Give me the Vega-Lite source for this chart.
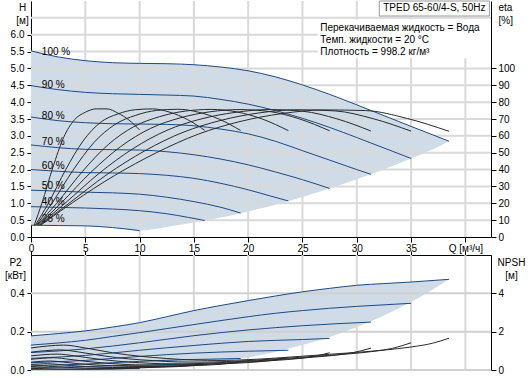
{
"$schema":"https://vega.github.io/schema/vega-lite/v6.json",
"padding":{"left":4,"top":0,"right":0,"bottom":0},
"background":"white",
"config":{"view":{"stroke":null},"font":"Liberation Sans",
"axis":{"labelFont":"Liberation Sans","titleFont":"Liberation Sans","labelFontSize":10,"titleFontSize":10,"titleFontWeight":"normal","labelColor":"#000","titleColor":"#000","domainColor":"#000","tickColor":"#000","grid":false,"labelFlush":false,"zindex":1},
"text":{"font":"Liberation Sans","fontSize":10,"color":"#000"}},
"datasets":{
"harea":[{"Q":0,"hi":5.52,"lo":0.35},{"Q":2.5,"hi":5.34,"lo":0.34},{"Q":5,"hi":5.23,"lo":0.33},{"Q":7.5,"hi":5.17,"lo":0.28},{"Q":10,"hi":5.15,"lo":0.19},{"Q":12.5,"hi":5.14,"lo":0.3},{"Q":15,"hi":5.11,"lo":0.43},{"Q":17.5,"hi":5.04,"lo":0.58},{"Q":20,"hi":4.93,"lo":0.76},{"Q":22.5,"hi":4.75,"lo":0.96},{"Q":25,"hi":4.51,"lo":1.19},{"Q":27.5,"hi":4.23,"lo":1.44},{"Q":30,"hi":3.92,"lo":1.71},{"Q":32.5,"hi":3.6,"lo":2.01},{"Q":35,"hi":3.28,"lo":2.33},{"Q":37,"hi":3.03,"lo":2.6},{"Q":38.5,"hi":2.84,"lo":2.84}],
"hcurve":[
{"s":100,"Q":0,"H":5.52},{"s":100,"Q":2.5,"H":5.34},{"s":100,"Q":5,"H":5.23},{"s":100,"Q":7.5,"H":5.17},{"s":100,"Q":10,"H":5.15},{"s":100,"Q":12.5,"H":5.14},{"s":100,"Q":15,"H":5.11},{"s":100,"Q":17.5,"H":5.04},{"s":100,"Q":20,"H":4.93},{"s":100,"Q":22.5,"H":4.75},{"s":100,"Q":25,"H":4.51},{"s":100,"Q":27.5,"H":4.23},{"s":100,"Q":30,"H":3.92},{"s":100,"Q":32.5,"H":3.6},{"s":100,"Q":35,"H":3.28},{"s":100,"Q":37,"H":3.03},{"s":100,"Q":38.5,"H":2.84},
{"s":90,"Q":0,"H":4.49},{"s":90,"Q":2.5,"H":4.37},{"s":90,"Q":5,"H":4.29},{"s":90,"Q":7.5,"H":4.25},{"s":90,"Q":10,"H":4.23},{"s":90,"Q":12.5,"H":4.21},{"s":90,"Q":15,"H":4.18},{"s":90,"Q":17.5,"H":4.08},{"s":90,"Q":20,"H":3.94},{"s":90,"Q":22.5,"H":3.75},{"s":90,"Q":25,"H":3.52},{"s":90,"Q":27.5,"H":3.25},{"s":90,"Q":30,"H":2.95},{"s":90,"Q":32.5,"H":2.64},{"s":90,"Q":35,"H":2.33},
{"s":80,"Q":0,"H":3.56},{"s":80,"Q":2.5,"H":3.45},{"s":80,"Q":5,"H":3.39},{"s":80,"Q":7.5,"H":3.36},{"s":80,"Q":10,"H":3.35},{"s":80,"Q":12.5,"H":3.34},{"s":80,"Q":15,"H":3.3},{"s":80,"Q":17.5,"H":3.2},{"s":80,"Q":20,"H":3.06},{"s":80,"Q":22.5,"H":2.84},{"s":80,"Q":25,"H":2.56},{"s":80,"Q":27.5,"H":2.28},{"s":80,"Q":30,"H":2.0},{"s":80,"Q":31.3,"H":1.86},
{"s":70,"Q":0,"H":2.73},{"s":70,"Q":2.5,"H":2.65},{"s":70,"Q":5,"H":2.6},{"s":70,"Q":7.5,"H":2.59},{"s":70,"Q":10,"H":2.58},{"s":70,"Q":12.5,"H":2.53},{"s":70,"Q":15,"H":2.44},{"s":70,"Q":17.5,"H":2.31},{"s":70,"Q":20,"H":2.14},{"s":70,"Q":22.5,"H":1.93},{"s":70,"Q":25,"H":1.7},{"s":70,"Q":27.5,"H":1.44},
{"s":60,"Q":0,"H":2.0},{"s":60,"Q":2.5,"H":1.95},{"s":60,"Q":5,"H":1.91},{"s":60,"Q":7.5,"H":1.9},{"s":60,"Q":10,"H":1.88},{"s":60,"Q":12.5,"H":1.83},{"s":60,"Q":15,"H":1.74},{"s":60,"Q":17.5,"H":1.59},{"s":60,"Q":20,"H":1.4},{"s":60,"Q":22,"H":1.22},{"s":60,"Q":23.7,"H":1.07},
{"s":50,"Q":0,"H":1.39},{"s":50,"Q":2.5,"H":1.36},{"s":50,"Q":5,"H":1.33},{"s":50,"Q":7.5,"H":1.31},{"s":50,"Q":10,"H":1.27},{"s":50,"Q":12.5,"H":1.18},{"s":50,"Q":15,"H":1.05},{"s":50,"Q":17.5,"H":0.88},{"s":50,"Q":19.3,"H":0.71},
{"s":40,"Q":0,"H":0.9},{"s":40,"Q":2.5,"H":0.88},{"s":40,"Q":5,"H":0.86},{"s":40,"Q":7.5,"H":0.83},{"s":40,"Q":10,"H":0.78},{"s":40,"Q":12.5,"H":0.69},{"s":40,"Q":14.5,"H":0.58},{"s":40,"Q":16,"H":0.49},
{"s":25,"Q":0,"H":0.35},{"s":25,"Q":2.5,"H":0.34},{"s":25,"Q":5,"H":0.33},{"s":25,"Q":7.5,"H":0.28},{"s":25,"Q":10,"H":0.19}],
"eta":[
{"s":25,"Q":0.3,"e":7},{"s":25,"Q":1,"e":20},{"s":25,"Q":2,"e":41},{"s":25,"Q":3,"e":59},{"s":25,"Q":4,"e":69.5},{"s":25,"Q":5,"e":74},{"s":25,"Q":6,"e":76},{"s":25,"Q":7,"e":76},{"s":25,"Q":8,"e":73.5},{"s":25,"Q":9,"e":69.5},{"s":25,"Q":10,"e":63.5},
{"s":40,"Q":0.4,"e":7},{"s":40,"Q":1.6,"e":20},{"s":40,"Q":3.2,"e":40},{"s":40,"Q":4.8,"e":57},{"s":40,"Q":6.4,"e":68},{"s":40,"Q":8,"e":73},{"s":40,"Q":9.6,"e":75.5},{"s":40,"Q":11.2,"e":76},{"s":40,"Q":12.8,"e":74},{"s":40,"Q":14.4,"e":69.7},{"s":40,"Q":16,"e":63.3},
{"s":50,"Q":0.5,"e":7},{"s":50,"Q":1.93,"e":20},{"s":50,"Q":3.86,"e":39.5},{"s":50,"Q":5.79,"e":56},{"s":50,"Q":7.72,"e":66.7},{"s":50,"Q":9.65,"e":72.2},{"s":50,"Q":11.58,"e":75.1},{"s":50,"Q":13.51,"e":75.8},{"s":50,"Q":15.44,"e":74},{"s":50,"Q":17.37,"e":69.8},{"s":50,"Q":19.3,"e":63.2},
{"s":60,"Q":0.55,"e":7},{"s":60,"Q":2.37,"e":20},{"s":60,"Q":4.74,"e":38.9},{"s":60,"Q":7.11,"e":54.8},{"s":60,"Q":9.48,"e":65.5},{"s":60,"Q":11.85,"e":71.4},{"s":60,"Q":14.22,"e":74.7},{"s":60,"Q":16.59,"e":75.7},{"s":60,"Q":18.96,"e":74.2},{"s":60,"Q":21.33,"e":69.9},{"s":60,"Q":23.7,"e":63.1},
{"s":70,"Q":0.65,"e":7},{"s":70,"Q":2.75,"e":20},{"s":70,"Q":5.5,"e":38.3},{"s":70,"Q":8.25,"e":53.6},{"s":70,"Q":11,"e":64.4},{"s":70,"Q":13.75,"e":70.7},{"s":70,"Q":16.5,"e":74.3},{"s":70,"Q":19.25,"e":75.6},{"s":70,"Q":22,"e":74.4},{"s":70,"Q":24.75,"e":70},{"s":70,"Q":27.5,"e":63},
{"s":80,"Q":0.75,"e":7},{"s":80,"Q":3.13,"e":20},{"s":80,"Q":6.26,"e":37.7},{"s":80,"Q":9.39,"e":52.4},{"s":80,"Q":12.52,"e":63.3},{"s":80,"Q":15.65,"e":70},{"s":80,"Q":18.78,"e":73.9},{"s":80,"Q":21.91,"e":75.6},{"s":80,"Q":25.04,"e":74.6},{"s":80,"Q":28.17,"e":70.1},{"s":80,"Q":31.3,"e":62.9},
{"s":90,"Q":0.8,"e":7},{"s":90,"Q":3.5,"e":20},{"s":90,"Q":7,"e":37.1},{"s":90,"Q":10.5,"e":51.2},{"s":90,"Q":14,"e":62.1},{"s":90,"Q":17.5,"e":69.2},{"s":90,"Q":21,"e":73.6},{"s":90,"Q":24.5,"e":75.5},{"s":90,"Q":28,"e":74.8},{"s":90,"Q":31.5,"e":70.2},{"s":90,"Q":35,"e":62.8},
{"s":100,"Q":0.9,"e":7},{"s":100,"Q":3.85,"e":20.5},{"s":100,"Q":7.7,"e":36.5},{"s":100,"Q":11.55,"e":50},{"s":100,"Q":15.4,"e":61},{"s":100,"Q":19.25,"e":68.5},{"s":100,"Q":23.1,"e":73.2},{"s":100,"Q":26.95,"e":75.4},{"s":100,"Q":30.8,"e":75},{"s":100,"Q":34.65,"e":70.3},{"s":100,"Q":38.5,"e":62.7}],
"vgrid":[{"Q":5},{"Q":10},{"Q":15},{"Q":20},{"Q":25},{"Q":30},{"Q":35},{"Q":40}],
"hg":[{"g":0.5,"Q":0,"H":0.5},{"g":0.5,"Q":42.36,"H":0.5},{"g":1,"Q":0,"H":1},{"g":1,"Q":42.36,"H":1},{"g":1.5,"Q":0,"H":1.5},{"g":1.5,"Q":42.36,"H":1.5},{"g":2,"Q":0,"H":2},{"g":2,"Q":42.36,"H":2},{"g":2.5,"Q":0,"H":2.5},{"g":2.5,"Q":42.36,"H":2.5},{"g":3,"Q":0,"H":3},{"g":3,"Q":42.36,"H":3},{"g":3.5,"Q":0,"H":3.5},{"g":3.5,"Q":42.36,"H":3.5},{"g":4,"Q":0,"H":4},{"g":4,"Q":42.36,"H":4},{"g":4.5,"Q":0,"H":4.5},{"g":4.5,"Q":42.36,"H":4.5},{"g":5,"Q":0,"H":5},{"g":5,"Q":42.36,"H":5},{"g":5.5,"Q":0,"H":5.5},{"g":5.5,"Q":42.36,"H":5.5},{"g":6,"Q":0,"H":6},{"g":6,"Q":42.36,"H":6},{"g":6.5,"Q":0,"H":6.5},{"g":6.5,"Q":42.36,"H":6.5}],
"hgp":[{"g":0,"Q":0,"P":0},{"g":0,"Q":42.36,"P":0},{"g":0.2,"Q":0,"P":0.2},{"g":0.2,"Q":42.36,"P":0.2},{"g":0.4,"Q":0,"P":0.4},{"g":0.4,"Q":42.36,"P":0.4}],
"labels":[{"t":"100 %","Q":1.0,"H":5.5},{"t":"90 %","Q":1.0,"H":4.52},{"t":"80 %","Q":1.0,"H":3.6},{"t":"70 %","Q":1.0,"H":2.83},{"t":"60 %","Q":1.0,"H":2.12},{"t":"50 %","Q":1.0,"H":1.52},{"t":"40 %","Q":1.0,"H":1.05},{"t":"25 %","Q":1.0,"H":0.52}],
"infobox":[{"x1":26.4,"x2":42.36,"y1":5.3,"y2":6.45}],
"info":[{"t":"Перекачиваемая жидкость = Вода","Q":26.64,"H":6.2},{"t":"Темп. жидкости = 20 °C","Q":26.64,"H":5.84},{"t":"Плотность = 998.2 кг/м³","Q":26.64,"H":5.49}],
"tbox":[{"x1":32.07,"x2":42.21,"y1":6.555,"y2":7.0}],
"ttl":[{"t":"TPED 65-60/4-S, 50Hz","Q":37.14,"H":6.78}],
"parea":[{"Q":0,"hi":0.178,"lo":0.0028},{"Q":2.5,"hi":0.19,"lo":0.004},{"Q":5,"hi":0.204,"lo":0.0056},{"Q":7.5,"hi":0.224,"lo":0.0066},{"Q":10,"hi":0.247,"lo":0.0083},{"Q":12.5,"hi":0.278,"lo":0.016},{"Q":15,"hi":0.31,"lo":0.028},{"Q":17.5,"hi":0.337,"lo":0.044},{"Q":20,"hi":0.362,"lo":0.066},{"Q":22.5,"hi":0.386,"lo":0.094},{"Q":25,"hi":0.408,"lo":0.13},{"Q":27.5,"hi":0.426,"lo":0.172},{"Q":30,"hi":0.442,"lo":0.224},{"Q":32.5,"hi":0.451,"lo":0.285},{"Q":35,"hi":0.459,"lo":0.355},{"Q":37,"hi":0.466,"lo":0.42},{"Q":38.5,"hi":0.473,"lo":0.473}],
"pcurve":[
{"s":100,"Q":0,"P":0.178},{"s":100,"Q":2.5,"P":0.19},{"s":100,"Q":5,"P":0.204},{"s":100,"Q":7.5,"P":0.224},{"s":100,"Q":10,"P":0.247},{"s":100,"Q":12.5,"P":0.278},{"s":100,"Q":15,"P":0.31},{"s":100,"Q":17.5,"P":0.337},{"s":100,"Q":20,"P":0.362},{"s":100,"Q":22.5,"P":0.386},{"s":100,"Q":25,"P":0.408},{"s":100,"Q":27.5,"P":0.426},{"s":100,"Q":30,"P":0.442},{"s":100,"Q":32.5,"P":0.451},{"s":100,"Q":35,"P":0.459},{"s":100,"Q":38.5,"P":0.473},
{"s":90,"Q":0,"P":0.13},{"s":90,"Q":2.5,"P":0.141},{"s":90,"Q":5,"P":0.155},{"s":90,"Q":7.5,"P":0.175},{"s":90,"Q":10,"P":0.195},{"s":90,"Q":12.5,"P":0.216},{"s":90,"Q":15,"P":0.237},{"s":90,"Q":17.5,"P":0.258},{"s":90,"Q":20,"P":0.278},{"s":90,"Q":22.5,"P":0.296},{"s":90,"Q":25,"P":0.31},{"s":90,"Q":27.5,"P":0.322},{"s":90,"Q":30,"P":0.332},{"s":90,"Q":32.5,"P":0.34},{"s":90,"Q":35,"P":0.348},
{"s":80,"Q":0,"P":0.091},{"s":80,"Q":5,"P":0.11},{"s":80,"Q":10,"P":0.142},{"s":80,"Q":15,"P":0.179},{"s":80,"Q":20,"P":0.209},{"s":80,"Q":25,"P":0.231},{"s":80,"Q":28,"P":0.241},{"s":80,"Q":31.3,"P":0.25},
{"s":70,"Q":0,"P":0.061},{"s":70,"Q":5,"P":0.076},{"s":70,"Q":10,"P":0.103},{"s":70,"Q":15,"P":0.128},{"s":70,"Q":20,"P":0.149},{"s":70,"Q":25,"P":0.159},{"s":70,"Q":27.5,"P":0.165},
{"s":60,"Q":0,"P":0.038},{"s":60,"Q":5,"P":0.05},{"s":60,"Q":10,"P":0.071},{"s":60,"Q":15,"P":0.088},{"s":60,"Q":20,"P":0.098},{"s":60,"Q":23.7,"P":0.103},
{"s":50,"Q":0,"P":0.022},{"s":50,"Q":5,"P":0.031},{"s":50,"Q":10,"P":0.045},{"s":50,"Q":15,"P":0.055},{"s":50,"Q":19.3,"P":0.06},
{"s":40,"Q":0,"P":0.0114},{"s":40,"Q":5,"P":0.0178},{"s":40,"Q":10,"P":0.026},{"s":40,"Q":16,"P":0.031},
{"s":25,"Q":0,"P":0.0028},{"s":25,"Q":5,"P":0.0056},{"s":25,"Q":10,"P":0.0074}],
"npsh":[
{"s":100,"Q":0,"N":1.15},{"s":100,"Q":1.5,"N":1.25},{"s":100,"Q":3,"N":1.3},{"s":100,"Q":5,"N":1.15},{"s":100,"Q":7.5,"N":0.9},{"s":100,"Q":10,"N":0.72},{"s":100,"Q":12.5,"N":0.6},{"s":100,"Q":15,"N":0.52},{"s":100,"Q":17.5,"N":0.5},{"s":100,"Q":20,"N":0.54},{"s":100,"Q":22.5,"N":0.62},{"s":100,"Q":25,"N":0.72},{"s":100,"Q":27.5,"N":0.82},{"s":100,"Q":30,"N":0.92},{"s":100,"Q":32.5,"N":1.04},{"s":100,"Q":35,"N":1.2},{"s":100,"Q":37,"N":1.4},{"s":100,"Q":38.5,"N":1.66},
{"s":90,"Q":0,"N":0.93},{"s":90,"Q":1.35,"N":1.01},{"s":90,"Q":2.7,"N":1.05},{"s":90,"Q":4.5,"N":0.93},{"s":90,"Q":6.75,"N":0.73},{"s":90,"Q":9,"N":0.58},{"s":90,"Q":11.25,"N":0.49},{"s":90,"Q":13.5,"N":0.42},{"s":90,"Q":15.75,"N":0.41},{"s":90,"Q":18,"N":0.44},{"s":90,"Q":20.25,"N":0.5},{"s":90,"Q":22.5,"N":0.58},{"s":90,"Q":24.75,"N":0.66},{"s":90,"Q":27,"N":0.75},{"s":90,"Q":29.25,"N":0.84},{"s":90,"Q":31.5,"N":0.97},{"s":90,"Q":33.3,"N":1.13},{"s":90,"Q":35,"N":1.42},
{"s":80,"Q":0,"N":0.74},{"s":80,"Q":1.2,"N":0.8},{"s":80,"Q":2.4,"N":0.83},{"s":80,"Q":4,"N":0.74},{"s":80,"Q":6,"N":0.58},{"s":80,"Q":8,"N":0.46},{"s":80,"Q":10,"N":0.38},{"s":80,"Q":12,"N":0.33},{"s":80,"Q":14,"N":0.32},{"s":80,"Q":16,"N":0.35},{"s":80,"Q":18,"N":0.4},{"s":80,"Q":20,"N":0.46},{"s":80,"Q":22,"N":0.52},{"s":80,"Q":24,"N":0.59},{"s":80,"Q":26,"N":0.67},{"s":80,"Q":28,"N":0.77},{"s":80,"Q":29.6,"N":0.9},{"s":80,"Q":31.3,"N":1.14},
{"s":70,"Q":0,"N":0.56},{"s":70,"Q":1.05,"N":0.61},{"s":70,"Q":2.1,"N":0.64},{"s":70,"Q":3.5,"N":0.56},{"s":70,"Q":5.25,"N":0.44},{"s":70,"Q":7,"N":0.35},{"s":70,"Q":8.75,"N":0.29},{"s":70,"Q":10.5,"N":0.25},{"s":70,"Q":12.25,"N":0.25},{"s":70,"Q":14,"N":0.26},{"s":70,"Q":15.75,"N":0.3},{"s":70,"Q":17.5,"N":0.35},{"s":70,"Q":19.25,"N":0.4},{"s":70,"Q":21,"N":0.45},{"s":70,"Q":22.75,"N":0.51},{"s":70,"Q":24.5,"N":0.59},{"s":70,"Q":25.9,"N":0.69},{"s":70,"Q":27.5,"N":0.9},
{"s":60,"Q":0,"N":0.41},{"s":60,"Q":0.9,"N":0.45},{"s":60,"Q":1.8,"N":0.47},{"s":60,"Q":3,"N":0.41},{"s":60,"Q":4.5,"N":0.32},{"s":60,"Q":6,"N":0.26},{"s":60,"Q":7.5,"N":0.22},{"s":60,"Q":9,"N":0.19},{"s":60,"Q":10.5,"N":0.18},{"s":60,"Q":12,"N":0.19},{"s":60,"Q":13.5,"N":0.22},{"s":60,"Q":15,"N":0.26},{"s":60,"Q":16.5,"N":0.3},{"s":60,"Q":18,"N":0.33},{"s":60,"Q":19.5,"N":0.37},{"s":60,"Q":21,"N":0.43},{"s":60,"Q":22.2,"N":0.5},{"s":60,"Q":23.7,"N":0.64},
{"s":50,"Q":0,"N":0.29},{"s":50,"Q":0.75,"N":0.31},{"s":50,"Q":1.5,"N":0.33},{"s":50,"Q":2.5,"N":0.29},{"s":50,"Q":3.75,"N":0.23},{"s":50,"Q":5,"N":0.18},{"s":50,"Q":7.5,"N":0.13},{"s":50,"Q":10,"N":0.135},{"s":50,"Q":12.5,"N":0.18},{"s":50,"Q":15,"N":0.23},{"s":50,"Q":17.5,"N":0.3},{"s":50,"Q":19.3,"N":0.45},
{"s":40,"Q":0,"N":0.18},{"s":40,"Q":0.6,"N":0.2},{"s":40,"Q":1.2,"N":0.21},{"s":40,"Q":2,"N":0.18},{"s":40,"Q":3,"N":0.15},{"s":40,"Q":4,"N":0.12},{"s":40,"Q":6,"N":0.085},{"s":40,"Q":8,"N":0.085},{"s":40,"Q":10,"N":0.115},{"s":40,"Q":12,"N":0.15},{"s":40,"Q":14,"N":0.19},{"s":40,"Q":16,"N":0.29},
{"s":25,"Q":0,"N":0.072},{"s":25,"Q":0.75,"N":0.081},{"s":25,"Q":1.25,"N":0.07},{"s":25,"Q":2.5,"N":0.045},{"s":25,"Q":5,"N":0.034},{"s":25,"Q":7.5,"N":0.052},{"s":25,"Q":10,"N":0.11}]
},
"spacing":18,
"bounds":"flush",
"vconcat":[
{"width":460,"height":236,
"resolve":{"scale":{"y":"independent"}},
"layer":[
{"data":{"name":"harea"},"mark":{"type":"area","color":"#cfdbe7","interpolate":"monotone"},
"encoding":{"x":{"field":"Q","type":"quantitative","scale":{"domain":[0,42.36],"nice":false,"zero":false},"axis":{"orient":"bottom","values":[0,5,10,15,20,25,30,35,40],"labelExpr":"datum.value == 40 ? 'Q [м³/ч]' : datum.label","title":null,"tickSize":5,"labelPadding":1}},
"y":{"field":"hi","type":"quantitative","scale":{"domain":[0,7],"nice":false,"zero":false},"axis":{"orient":"left","values":[0,0.5,1,1.5,2,2.5,3,3.5,4,4.5,5,5.5,6],"format":".1f","title":["H","[м]"],"titleAngle":0,"titleAlign":"center","titleBaseline":"top","titleX":-9,"titleY":1.5,"titleLineHeight":12.5,"tickSize":4,"labelPadding":3}},
"y2":{"field":"lo"}}},
{"data":{"name":"vgrid"},"mark":{"type":"rule","stroke":"#d9d9d9","strokeWidth":2},
"encoding":{"x":{"field":"Q","type":"quantitative","scale":{"domain":[0,42.36],"nice":false,"zero":false}}}},
{"data":{"name":"hg"},"mark":{"type":"line","stroke":"#d9d9d9","strokeWidth":2},
"encoding":{"x":{"field":"Q","type":"quantitative","scale":{"domain":[0,42.36],"nice":false,"zero":false}},
"y":{"field":"H","type":"quantitative","scale":{"domain":[0,7],"nice":false,"zero":false},"axis":null},"detail":{"field":"g","type":"nominal"}}},
{"data":{"name":"infobox"},"mark":{"type":"rect","fill":"white"},
"encoding":{"x":{"field":"x1","type":"quantitative","scale":{"domain":[0,42.36],"nice":false,"zero":false}},"x2":{"field":"x2"},"y":{"field":"y1","type":"quantitative","scale":{"domain":[0,7],"nice":false,"zero":false},"axis":null},"y2":{"field":"y2"}}},
{"data":{"name":"hcurve"},"mark":{"type":"line","color":"#1d4a85","strokeWidth":1,"interpolate":"monotone"},
"encoding":{"x":{"field":"Q","type":"quantitative","scale":{"domain":[0,42.36],"nice":false,"zero":false}},"y":{"field":"H","type":"quantitative","scale":{"domain":[0,7],"nice":false,"zero":false},"axis":null},"detail":{"field":"s","type":"nominal"}}},
{"data":{"name":"labels"},"mark":{"type":"text","align":"left","baseline":"middle","fontSize":10},
"encoding":{"x":{"field":"Q","type":"quantitative","scale":{"domain":[0,42.36],"nice":false,"zero":false}},"y":{"field":"H","type":"quantitative","scale":{"domain":[0,7],"nice":false,"zero":false},"axis":null},"text":{"field":"t"}}},
{"data":{"name":"info"},"mark":{"type":"text","align":"left","baseline":"middle","fontSize":10},
"encoding":{"x":{"field":"Q","type":"quantitative","scale":{"domain":[0,42.36],"nice":false,"zero":false}},"y":{"field":"H","type":"quantitative","scale":{"domain":[0,7],"nice":false,"zero":false},"axis":null},"text":{"field":"t"}}},
{"data":{"name":"tbox"},"mark":{"type":"rect","fill":"white","stroke":"#999999","strokeWidth":1},
"encoding":{"x":{"field":"x1","type":"quantitative","scale":{"domain":[0,42.36],"nice":false,"zero":false}},"x2":{"field":"x2"},"y":{"field":"y1","type":"quantitative","scale":{"domain":[0,7],"nice":false,"zero":false},"axis":null},"y2":{"field":"y2"}}},
{"data":{"name":"ttl"},"mark":{"type":"text","align":"center","baseline":"middle","fontSize":10},
"encoding":{"x":{"field":"Q","type":"quantitative","scale":{"domain":[0,42.36],"nice":false,"zero":false}},"y":{"field":"H","type":"quantitative","scale":{"domain":[0,7],"nice":false,"zero":false},"axis":null},"text":{"field":"t"}}},
{"data":{"name":"eta"},"mark":{"type":"line","color":"#2a2a2a","strokeWidth":1,"interpolate":"monotone"},
"encoding":{"x":{"field":"Q","type":"quantitative","scale":{"domain":[0,42.36],"nice":false,"zero":false}},
"y":{"field":"e","type":"quantitative","scale":{"domain":[0,140],"nice":false,"zero":false},"axis":{"orient":"right","values":[0,10,20,30,40,50,60,70,80,90,100],"title":["eta","[%]"],"titleAngle":0,"titleAlign":"left","titleBaseline":"top","titleX":7,"titleY":1.5,"titleLineHeight":12.5,"tickSize":5,"labelPadding":2}},
"detail":{"field":"s","type":"nominal"}}}
]},
{"width":460,"height":115,
"resolve":{"scale":{"y":"independent"}},
"layer":[
{"data":{"name":"parea"},"mark":{"type":"area","color":"#cfdbe7","interpolate":"monotone"},
"encoding":{"x":{"field":"Q","type":"quantitative","scale":{"domain":[0,42.36],"nice":false,"zero":false},"axis":{"orient":"top","values":[0,5,10,15,20,25,30,35,40],"labels":false,"title":null,"tickSize":4}},
"y":{"field":"hi","type":"quantitative","scale":{"domain":[0,0.6],"nice":false,"zero":false},"axis":{"orient":"left","values":[0,0.2,0.4],"format":".1f","title":["P2","[кВт]"],"titleAngle":0,"titleAlign":"center","titleBaseline":"top","titleX":-16,"titleY":2.5,"titleLineHeight":12.5,"tickSize":4,"labelPadding":3}},
"y2":{"field":"lo"}}},
{"data":{"name":"vgrid"},"mark":{"type":"rule","stroke":"#d9d9d9","strokeWidth":2},
"encoding":{"x":{"field":"Q","type":"quantitative","scale":{"domain":[0,42.36],"nice":false,"zero":false}}}},
{"data":{"name":"hgp"},"mark":{"type":"line","stroke":"#d0d0d0","strokeWidth":2},
"encoding":{"x":{"field":"Q","type":"quantitative","scale":{"domain":[0,42.36],"nice":false,"zero":false}},
"y":{"field":"P","type":"quantitative","scale":{"domain":[0,0.6],"nice":false,"zero":false},"axis":null},"detail":{"field":"g","type":"nominal"}}},
{"data":{"name":"pcurve"},"mark":{"type":"line","color":"#1d4a85","strokeWidth":1,"interpolate":"monotone"},
"encoding":{"x":{"field":"Q","type":"quantitative","scale":{"domain":[0,42.36],"nice":false,"zero":false}},"y":{"field":"P","type":"quantitative","scale":{"domain":[0,0.6],"nice":false,"zero":false},"axis":null},"detail":{"field":"s","type":"nominal"}}},
{"data":{"name":"npsh"},"mark":{"type":"line","color":"#2a2a2a","strokeWidth":1,"interpolate":"monotone"},
"encoding":{"x":{"field":"Q","type":"quantitative","scale":{"domain":[0,42.36],"nice":false,"zero":false}},
"y":{"field":"N","type":"quantitative","scale":{"domain":[0,6],"nice":false,"zero":false},"axis":{"orient":"right","values":[0,2,4],"format":"d","title":["NPSH","[м]"],"titleAngle":0,"titleAlign":"center","titleBaseline":"top","titleX":20,"titleY":2.5,"titleLineHeight":12.5,"tickSize":5,"labelPadding":2}},
"detail":{"field":"s","type":"nominal"}}}
]}
]
}
